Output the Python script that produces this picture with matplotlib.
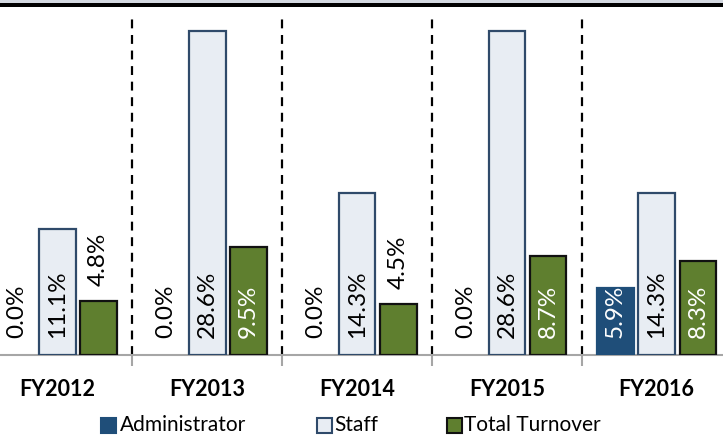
import matplotlib
matplotlib.use("Agg")
import matplotlib.pyplot as plt
from matplotlib.patches import Rectangle

categories = ["FY2012", "FY2013", "FY2014", "FY2015", "FY2016"]
series_names = ["Administrator", "Staff", "Total Turnover"]
administrator = [0.0, 0.0, 0.0, 0.0, 5.9]
staff = [11.1, 28.6, 14.3, 28.6, 14.3]
total_turnover = [4.8, 9.5, 4.5, 8.7, 8.3]

colors = ["#1F4E79", "#E8EDF3", "#5F7F2F"]
edges = ["#1F4E79", "#2F4A6A", "#111111"]
text_in = ["white", "black", "white"]

plt.rcParams['font.family'] = ['Lato', 'DejaVu Sans']

W, H = 723, 438
fig = plt.figure(figsize=(W / 100, H / 100), dpi=100)

# page decoration at top
fig.add_artist(Rectangle((0, 1 - 3 / H), 1, 3 / H, transform=fig.transFigure,
                         facecolor="#D3D8E0", edgecolor="none"))
fig.add_artist(Rectangle((0, 1 - 7 / H), 1, 4 / H, transform=fig.transFigure,
                         facecolor="black", edgecolor="none"))

base_y = 355
top_y = 15
ax = fig.add_axes([0, (H - base_y) / H, 1, (base_y - top_y) / H])
ymax = 30.0
grp = 149.8
c0 = 57.5

offset = 0.275
width = 0.245
data = [administrator, staff, total_turnover]
for s, vals in enumerate(data):
    xs = [i + (s - 1) * offset for i in range(len(categories))]
    lws = [1.6 if v > 0 else 0 for v in vals]
    ax.bar(xs, vals, width=width, color=colors[s], edgecolor=edges[s],
           linewidth=lws, zorder=3)
    for x, v in zip(xs, vals):
        lab = f"{v:.1f}%"
        if v == 0:
            ax.text(x, 1.5, lab, rotation=90, ha='center', va='bottom',
                    fontsize=17.5, color='black', zorder=4)
        elif v < 5:
            ax.text(x, v + 1.3, lab, rotation=90, ha='center', va='bottom',
                    fontsize=17.5, color='black', zorder=4)
        else:
            ax.text(x, 1.5, lab, rotation=90, ha='center', va='bottom',
                    fontsize=17.5, color=text_in[s], zorder=4)

for k in range(len(categories) - 1):
    ax.axvline(k + 0.5, color='black', linewidth=1.6, linestyle=(0, (4, 3)), zorder=1)

for sp in ["top", "left", "right"]:
    ax.spines[sp].set_visible(False)
ax.spines["bottom"].set_color("#A6A6A6")
ax.spines["bottom"].set_linewidth(1.5)
ax.set_yticks([])
ax.set_xticks([k + 0.5 for k in range(len(categories) - 1)])
ax.set_xticklabels([])
ax.tick_params(axis='x', length=8, width=1.5, color="#A6A6A6", direction='out')
ax.set_xlim((0 - c0) / grp, (W - c0) / grp)
ax.set_ylim(0, ymax)

for i, c in enumerate(categories):
    ax.text(i, -3.0, c, ha='center', va='center', fontsize=15.5, fontweight='bold',
            transform=ax.transData, clip_on=False)

# legend
leg_items = [(101, 120), (317, 334), (447, 464)]
ly = 425
for (mx, tx), name, fc, ec in zip(leg_items, series_names, colors, edges):
    size = 15
    fig.add_artist(Rectangle((mx / W, (H - ly - size / 2) / H), size / W, size / H,
                             transform=fig.transFigure, facecolor=fc, edgecolor=ec,
                             linewidth=1.5))
    fig.text(tx / W, (H - ly) / H, name, ha='left', va='center', fontsize=15)

fig.savefig("out.png", dpi=100)
